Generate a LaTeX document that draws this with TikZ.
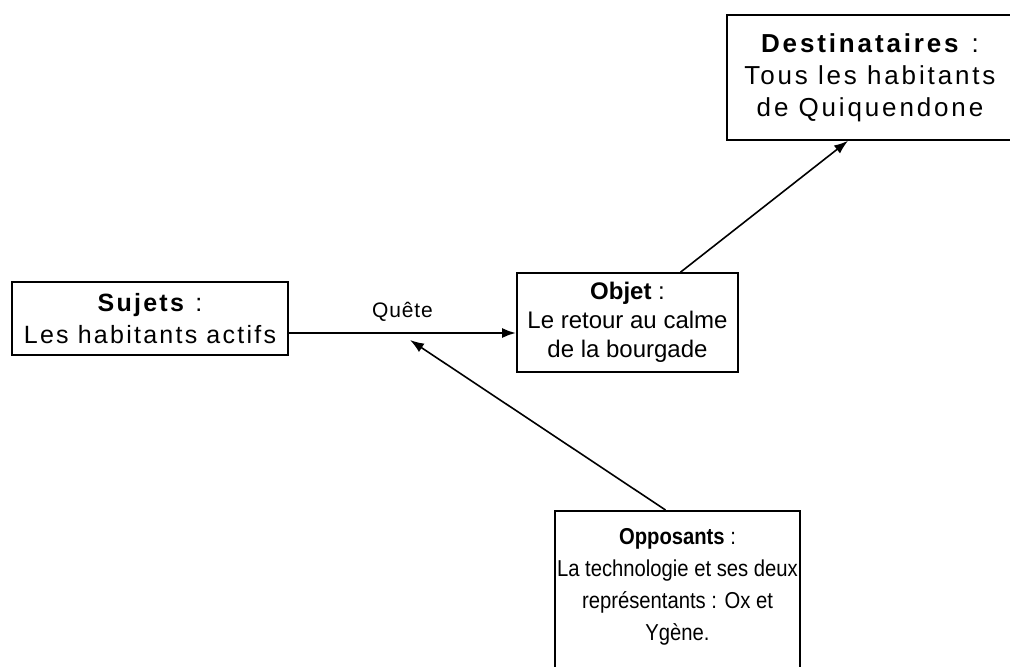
\documentclass[tikz,border=0pt]{standalone}
\usepackage{fontspec}
\setmainfont{Liberation Sans}
\newfontfamily\lsD{Liberation Sans}[LetterSpace=11]
\newfontfamily\lsS{Liberation Sans}[LetterSpace=9]
\newfontfamily\lsO{Liberation Sans}[FakeStretch=0.88]
\newfontfamily\lsQ{Liberation Sans}[LetterSpace=4]
\usetikzlibrary{arrows.meta,calc}
\begin{document}
\begin{tikzpicture}[x=1pt,y=-1pt,
  box/.style={draw,line width=1.6pt,align=center,inner sep=0pt},
  txt/.style={align=center,inner sep=0pt},
  arr/.style={line width=1.6pt,-{Latex[length=14pt,width=10pt]}},
  lbl/.style={font=\lsQ\fontsize{21}{23}\selectfont}]
\useasboundingbox (0,0) rectangle (1010,667);
\begin{scope}
\clip (0,0) rectangle (1010,667);
\node[box,minimum width=286pt,minimum height=125pt,
  font=\lsD\fontsize{26}{32}\selectfont] (dest) at (870,77.5)
  {\textbf{Destinataires} :\\Tous les habitants\\de Quiquendone};
\node[box,minimum width=276pt,minimum height=73pt,
  font=\lsS\fontsize{25}{32}\selectfont] (suj) at (150,318.5)
  {\textbf{Sujets} :\\Les habitants actifs};
\node[box,minimum width=221pt,minimum height=99pt,
  font=\fontsize{24}{29}\selectfont] (obj) at (627.5,322.5)
  {\textbf{Objet} :\\Le retour au calme\\de la bourgade};
\node[box,minimum width=245pt,minimum height=170pt,anchor=north] (opp) at (677.5,510) {};
\node[txt,font=\lsO\fontsize{23}{32}\selectfont] (opptxt) at (677.5,587)
  {\textbf{Opposants} :\\La technologie et ses deux\\représentants : Ox et\\Ygène.};
\end{scope}
\coordinate (q) at (410,340);
\draw[arr,line width=2.4pt] ($(suj.east)+(0,14.5)$) -- node[lbl,above=7pt,pos=0.5] (quete) {Quête} ($(obj.west)+(0,10.5)$);
\draw[arr] ($(obj.north)+(53,0)$) -- ($(dest.south)+(-22,0)$);
\draw[arr] ($(opp.north)+(-12,0)$) -- (q);
\end{tikzpicture}
\end{document}
